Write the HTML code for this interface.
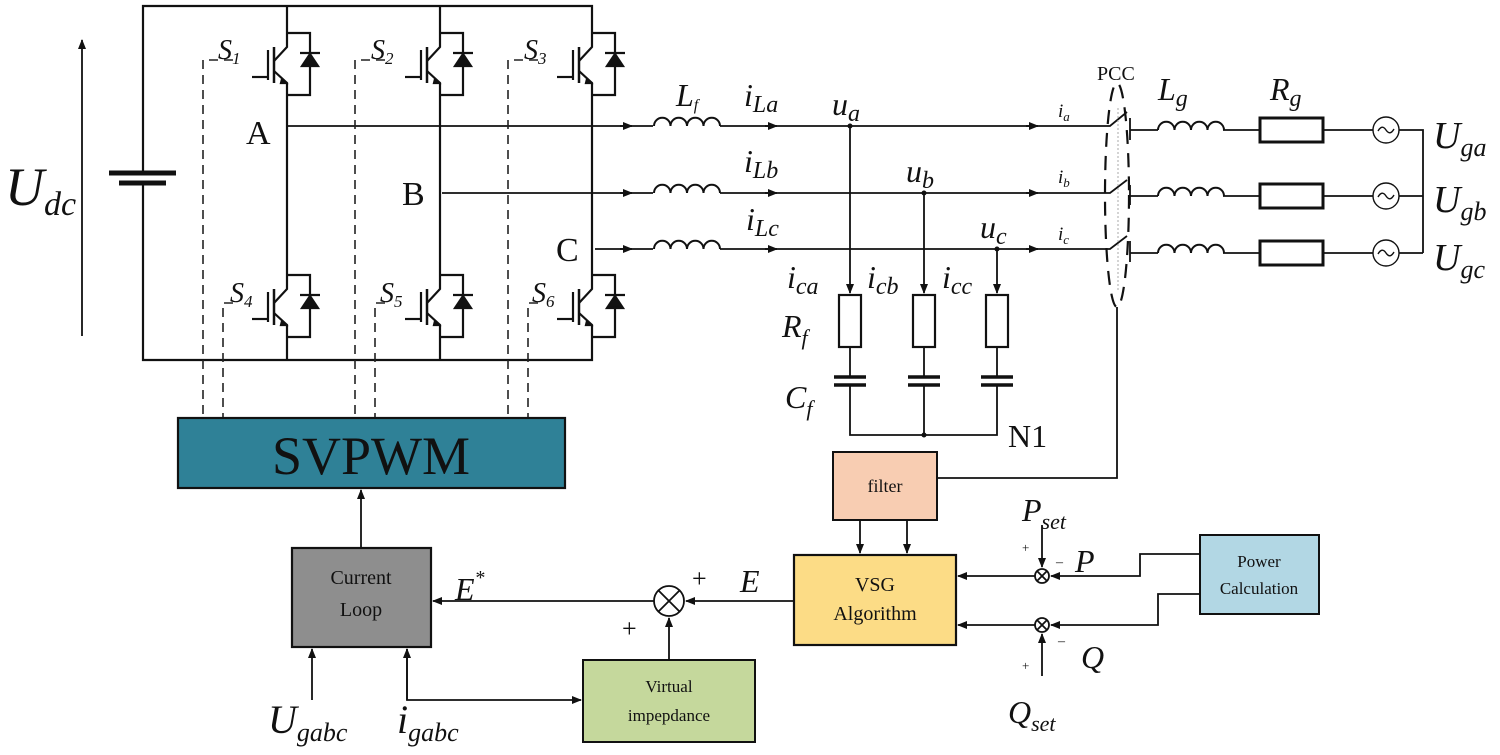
<!DOCTYPE html>
<html><head><meta charset="utf-8"><style>
html,body{margin:0;padding:0;background:#fff;}
svg{display:block;}
text{font-family:"Liberation Serif",serif;fill:#111;}
.i{font-style:italic;}
</style></head><body>
<svg width="1500" height="755" viewBox="0 0 1500 755" xmlns="http://www.w3.org/2000/svg">
<defs>
<marker id="ar" markerWidth="10" markerHeight="8" refX="9" refY="4" orient="auto" markerUnits="userSpaceOnUse">
<path d="M0,0 L10,4 L0,8 Z" fill="#111"/></marker>
<g id="sw" stroke="#111" stroke-width="2.2" fill="none">
<path d="M0,0 V14 L-13,28"/>
<path d="M-13,14 V50" stroke-width="2.5"/>
<path d="M-19,17 V47"/>
<path d="M-35,44 H-19"/>
<path d="M-13,38 L0,50 V62"/>
<path d="M-5,46 L-1,50 L-6,50 Z" fill="#111"/>
<path d="M0,0 H23 V62 H0"/>
<path d="M13,20 H33"/>
<path d="M15,33 L23,21 L31,33 Z" fill="#111"/>
</g>
<path id="ind" d="M0,0 a8,8 0 0 1 16.5,0 a8,8 0 0 1 16.5,0 a8,8 0 0 1 16.5,0 a8,8 0 0 1 16.5,0" fill="none" stroke="#111" stroke-width="2"/>
</defs>

<g stroke="#111" stroke-width="2.2" fill="none">
<path d="M143,173 V6 H592 V33"/>
<path d="M143,183 V360 H592 V337"/>
<path d="M287,6 V33 M287,95 V275 M287,337 V360"/>
<path d="M440,6 V33 M440,95 V275 M440,337 V360"/>
<path d="M592,95 V275"/>
<path d="M109,173 H176" stroke-width="5"/>
<path d="M119,183 H166" stroke-width="5"/>
<path d="M287,126 H1110 L1127,112" stroke-width="1.8"/>
<path d="M442,193 H1110 L1127,180" stroke-width="1.8"/>
<path d="M595,249 H1110 L1127,236" stroke-width="1.8"/>
</g>
<path d="M82,336 V40" stroke="#111" stroke-width="1.8" marker-end="url(#ar)"/>

<use href="#sw" x="287" y="33"/><use href="#sw" x="440" y="33"/><use href="#sw" x="592" y="33"/>
<use href="#sw" x="287" y="275"/><use href="#sw" x="440" y="275"/><use href="#sw" x="592" y="275"/>

<g stroke="#222" stroke-width="1.6" fill="none" stroke-dasharray="9,6">
<path d="M233,60 H203 V417"/><path d="M233,303 H223 V417"/>
<path d="M385,60 H355 V417"/><path d="M385,303 H375 V417"/>
<path d="M538,60 H508 V417"/><path d="M538,303 H528 V417"/>
</g>

<g stroke="#111" stroke-width="1.8">
<path d="M620,126 H632" marker-end="url(#ar)"/><path d="M620,193 H632" marker-end="url(#ar)"/><path d="M620,249 H632" marker-end="url(#ar)"/>
<path d="M765,126 H777" marker-end="url(#ar)"/><path d="M765,193 H777" marker-end="url(#ar)"/><path d="M765,249 H777" marker-end="url(#ar)"/>
<path d="M1026,126 H1038" marker-end="url(#ar)"/><path d="M1026,193 H1038" marker-end="url(#ar)"/><path d="M1026,249 H1038" marker-end="url(#ar)"/>
</g>
<rect x="653" y="116" width="67" height="12" fill="#fff"/><rect x="653" y="183" width="67" height="12" fill="#fff"/><rect x="653" y="239" width="67" height="12" fill="#fff"/>
<use href="#ind" x="654" y="126"/><use href="#ind" x="654" y="193"/><use href="#ind" x="654" y="249"/>

<g stroke="#111" stroke-width="1.8" fill="none">
<path d="M850,126 V293" marker-end="url(#ar)"/>
<path d="M924,193 V293" marker-end="url(#ar)"/>
<path d="M997,249 V293" marker-end="url(#ar)"/>
<rect x="839" y="295" width="22" height="52" stroke-width="2.2"/>
<rect x="913" y="295" width="22" height="52" stroke-width="2.2"/>
<rect x="986" y="295" width="22" height="52" stroke-width="2.2"/>
<path d="M850,347 V377 M850,385 V435 H997 V385 M997,377 V347 M924,347 V377 M924,385 V435"/>
<path d="M834,377 H866 M834,385 H866 M908,377 H940 M908,385 H940 M981,377 H1013 M981,385 H1013" stroke-width="3.5"/>
</g>
<circle cx="850" cy="126" r="2.5" fill="#111"/><circle cx="924" cy="193" r="2.5" fill="#111"/><circle cx="997" cy="249" r="2.5" fill="#111"/><circle cx="924" cy="435" r="2.5" fill="#111"/>

<ellipse cx="1117" cy="195" rx="12" ry="112" fill="none" stroke="#111" stroke-width="2.2" stroke-dasharray="14,9"/>
<path d="M1118,108 V290" stroke="#aaa" stroke-width="1" stroke-dasharray="2,2"/>
<g stroke="#111" stroke-width="1.8" fill="none">
<path d="M1130,118 V140 M1130,185 V205 M1130,241 V262"/>
<path d="M1130,130 H1158 M1223,130 H1260 M1323,130 H1373 M1399,130 H1423 V253"/>
<path d="M1130,196 H1158 M1223,196 H1260 M1323,196 H1373 M1399,196 H1423"/>
<path d="M1130,253 H1158 M1223,253 H1260 M1323,253 H1373 M1399,253 H1423"/>
<rect x="1260" y="118" width="63" height="24" stroke-width="3"/>
<rect x="1260" y="184" width="63" height="24" stroke-width="3"/>
<rect x="1260" y="241" width="63" height="24" stroke-width="3"/>
<circle cx="1386" cy="130" r="13" stroke-width="1.4"/><circle cx="1386" cy="196" r="13" stroke-width="1.4"/><circle cx="1386" cy="253" r="13" stroke-width="1.4"/>
<path d="M1378,131 q4,-7 8,-1 t8,-1 M1378,197 q4,-7 8,-1 t8,-1 M1378,254 q4,-7 8,-1 t8,-1" stroke-width="1.4"/>
<path d="M1117,307 V478 H937"/>
</g>
<use href="#ind" x="1158" y="130"/><use href="#ind" x="1158" y="196"/><use href="#ind" x="1158" y="253"/>

<rect x="178" y="418" width="387" height="70" fill="#2f8197" stroke="#111" stroke-width="2.2"/>
<text x="371" y="474" font-size="54" text-anchor="middle">SVPWM</text>
<rect x="292" y="548" width="139" height="99" fill="#8e8e8e" stroke="#111" stroke-width="2.2"/>
<text x="361" y="584" font-size="20" text-anchor="middle">Current</text>
<text x="361" y="616" font-size="20" text-anchor="middle">Loop</text>
<rect x="583" y="660" width="172" height="82" fill="#c5d89c" stroke="#111" stroke-width="2"/>
<text x="669" y="692" font-size="17" text-anchor="middle">Virtual</text>
<text x="669" y="721" font-size="17" text-anchor="middle">impepdance</text>
<rect x="833" y="452" width="104" height="68" fill="#f8cdb2" stroke="#111" stroke-width="2"/>
<text x="885" y="492" font-size="18" text-anchor="middle">filter</text>
<rect x="794" y="555" width="162" height="90" fill="#fcdc86" stroke="#111" stroke-width="2.2"/>
<text x="875" y="591" font-size="20" text-anchor="middle">VSG</text>
<text x="875" y="620" font-size="20" text-anchor="middle">Algorithm</text>
<rect x="1200" y="535" width="119" height="79" fill="#b2d7e4" stroke="#111" stroke-width="2"/>
<text x="1259" y="567" font-size="17" text-anchor="middle">Power</text>
<text x="1259" y="594" font-size="17" text-anchor="middle">Calculation</text>

<g stroke="#111" stroke-width="1.8" fill="none">
<path d="M361,548 V490" marker-end="url(#ar)"/>
<path d="M654,601 H433" marker-end="url(#ar)"/>
<path d="M794,601 H686" marker-end="url(#ar)"/>
<circle cx="669" cy="601" r="15"/>
<path d="M658,590 L680,612 M680,590 L658,612"/>
<path d="M669,660 V618" marker-end="url(#ar)"/>
<path d="M312,700 V649" marker-end="url(#ar)"/>
<path d="M407,649 V700 H581" marker-end="url(#ar)"/>
<path d="M407,700 V649" marker-end="url(#ar)"/>
<path d="M860,520 V553" marker-end="url(#ar)"/>
<path d="M907,520 V553" marker-end="url(#ar)"/>
<path d="M1200,554 H1140 V576 H1051" marker-end="url(#ar)"/>
<path d="M1200,594 H1158 V625 H1051" marker-end="url(#ar)"/>
<path d="M1035,576 H958" marker-end="url(#ar)"/>
<path d="M1035,625 H958" marker-end="url(#ar)"/>
<path d="M1042,525 V567" marker-end="url(#ar)"/>
<path d="M1042,676 V634" marker-end="url(#ar)"/>
<circle cx="1042" cy="576" r="7"/><path d="M1037,571 L1047,581 M1047,571 L1037,581"/>
<circle cx="1042" cy="625" r="7"/><path d="M1037,620 L1047,630 M1047,620 L1037,630"/>
</g>

<text x="5" y="205" font-size="54" class="i">U<tspan font-size="34" dy="10">dc</tspan></text>
<text x="218" y="59" font-size="28" class="i">S<tspan font-size="17" dy="5">1</tspan></text>
<text x="371" y="59" font-size="28" class="i">S<tspan font-size="17" dy="5">2</tspan></text>
<text x="524" y="59" font-size="28" class="i">S<tspan font-size="17" dy="5">3</tspan></text>
<text x="230" y="302" font-size="28" class="i">S<tspan font-size="17" dy="5">4</tspan></text>
<text x="380" y="302" font-size="28" class="i">S<tspan font-size="17" dy="5">5</tspan></text>
<text x="532" y="302" font-size="28" class="i">S<tspan font-size="17" dy="5">6</tspan></text>
<text x="246" y="144" font-size="34">A</text>
<text x="402" y="205" font-size="34">B</text>
<text x="556" y="261" font-size="34">C</text>
<text x="676" y="106" font-size="32" class="i">L<tspan font-size="16" dy="4">f</tspan></text>
<text x="744" y="106" font-size="32" class="i">i<tspan font-size="24" dy="6">La</tspan></text>
<text x="744" y="172" font-size="32" class="i">i<tspan font-size="24" dy="6">Lb</tspan></text>
<text x="746" y="230" font-size="32" class="i">i<tspan font-size="24" dy="6">Lc</tspan></text>
<text x="832" y="115" font-size="32" class="i">u<tspan font-size="24" dy="6">a</tspan></text>
<text x="906" y="182" font-size="32" class="i">u<tspan font-size="24" dy="6">b</tspan></text>
<text x="980" y="238" font-size="32" class="i">u<tspan font-size="24" dy="6">c</tspan></text>
<text x="1058" y="117" font-size="19" class="i">i<tspan font-size="13" dy="4">a</tspan></text>
<text x="1058" y="183" font-size="19" class="i">i<tspan font-size="13" dy="4">b</tspan></text>
<text x="1058" y="240" font-size="19" class="i">i<tspan font-size="13" dy="4">c</tspan></text>
<text x="1097" y="80" font-size="20">PCC</text>
<text x="1158" y="100" font-size="32" class="i">L<tspan font-size="24" dy="6">g</tspan></text>
<text x="1270" y="100" font-size="32" class="i">R<tspan font-size="24" dy="6">g</tspan></text>
<text x="1433" y="148" font-size="38" class="i">U<tspan font-size="26" dy="8">ga</tspan></text>
<text x="1433" y="212" font-size="38" class="i">U<tspan font-size="26" dy="8">gb</tspan></text>
<text x="1433" y="270" font-size="38" class="i">U<tspan font-size="26" dy="8">gc</tspan></text>
<text x="787" y="288" font-size="32" class="i">i<tspan font-size="24" dy="6">ca</tspan></text>
<text x="867" y="288" font-size="32" class="i">i<tspan font-size="24" dy="6">cb</tspan></text>
<text x="942" y="288" font-size="32" class="i">i<tspan font-size="24" dy="6">cc</tspan></text>
<text x="782" y="337" font-size="32" class="i">R<tspan font-size="22" dy="8">f</tspan></text>
<text x="785" y="408" font-size="32" class="i">C<tspan font-size="22" dy="8">f</tspan></text>
<text x="1008" y="447" font-size="32">N1</text>
<text x="455" y="600" font-size="32" class="i">E<tspan font-size="20" dy="-16">*</tspan></text>
<text x="740" y="592" font-size="32" class="i">E</text>
<text x="692" y="587" font-size="26">+</text>
<text x="622" y="637" font-size="26">+</text>
<text x="268" y="733" font-size="40" class="i">U<tspan font-size="26" dy="8">gabc</tspan></text>
<text x="397" y="733" font-size="40" class="i">i<tspan font-size="26" dy="8">gabc</tspan></text>
<text x="1022" y="521" font-size="32" class="i">P<tspan font-size="22" dy="8">set</tspan></text>
<text x="1022" y="552" font-size="13">+</text>
<text x="1056" y="566" font-size="14">–</text>
<text x="1075" y="572" font-size="32" class="i">P</text>
<text x="1058" y="645" font-size="14">–</text>
<text x="1022" y="670" font-size="13">+</text>
<text x="1081" y="668" font-size="32" class="i">Q</text>
<text x="1008" y="723" font-size="32" class="i">Q<tspan font-size="22" dy="8">set</tspan></text>
</svg>
</body></html>
